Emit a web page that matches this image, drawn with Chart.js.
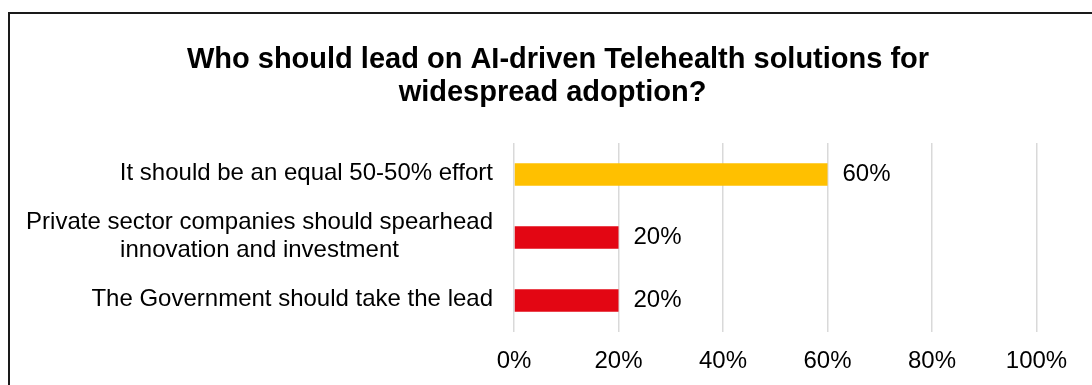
<!DOCTYPE html>
<html>
<head>
<meta charset="utf-8">
<script src="https://cdn.jsdelivr.net/npm/chart.js@4.4.1/dist/chart.umd.min.js"></script>
<style>
html, body { margin: 0; padding: 0; overflow: hidden; background: #fff; width: 1092px; height: 385px; }
#frame { position: absolute; left: 8px; top: 12px; width: 1200px; height: 500px; border: 2px solid #1a1a1a; box-sizing: border-box; }
#wrap { position: absolute; left: 0; top: 0; width: 1092px; height: 385px; }
</style>
</head>
<body>
<div id="frame"></div>
<div id="wrap"><canvas id="c" width="1092" height="385"></canvas></div>
<script>
const titleLines = ["Who should lead on AI-driven Telehealth solutions for", "widespread adoption?"];
const categories = [
  ["It should be an equal 50-50% effort"],
  ["Private sector companies should spearhead", "innovation and investment"],
  ["The Government should take the lead"]
];
const values = [60, 20, 20];
const barColors = ["#FFC000", "#E30613", "#E30613"];
const tickValues = [0, 20, 40, 60, 80, 100];

const FONT = "'Liberation Sans', Arial, sans-serif";

const customText = {
  id: 'customText',
  afterDraw(chart) {
    const ctx = chart.ctx;
    ctx.save();
    // title
    ctx.fillStyle = '#000';
    ctx.font = "bold 29px " + FONT;
    ctx.textAlign = 'center';
    ctx.textBaseline = 'alphabetic';
    const titleX = [558, 552.5], titleY = [68, 100.5];
    titleLines.forEach((t, i) => ctx.fillText(t, titleX[i], titleY[i]));
    // y category labels
    const ys = chart.scales.y;
    ctx.font = "24px " + FONT;
    ctx.textBaseline = 'middle';
    const right = 493, lh = 27.5;
    categories.forEach((lines, i) => {
      const cy = ys.getPixelForTick(i) - 1;
      const widest = Math.max(...lines.map(l => ctx.measureText(l).width));
      const cx = right - widest / 2;
      lines.forEach((l, j) => {
        ctx.fillText(l, cx, cy + (j - (lines.length - 1) / 2) * lh);
      });
    });
    // data labels
    ctx.textAlign = 'left';
    const meta = chart.getDatasetMeta(0);
    meta.data.forEach((bar, i) => {
      ctx.fillText(values[i] + '%', bar.x + 15, bar.y);
    });
    ctx.restore();
  }
};

new Chart(document.getElementById('c'), {
  type: 'bar',
  data: {
    labels: categories,
    datasets: [{
      data: values,
      backgroundColor: barColors,
      borderWidth: 0,
      categoryPercentage: 1,
      barPercentage: 0.355
    }]
  },
  options: {
    indexAxis: 'y',
    responsive: false,
    animation: false,
    layout: { padding: { top: 143, left: 0, right: 55.5, bottom: 0 } },
    plugins: { legend: { display: false }, title: { display: false }, tooltip: { enabled: false } },
    scales: {
      x: {
        min: 0, max: 100,
        afterBuildTicks(scale) { scale.ticks = tickValues.map(v => ({ value: v })); },
        border: { display: false },
        grid: { color: '#D9D9D9', lineWidth: 1.5, drawTicks: false },
        ticks: {
          padding: 15,
          color: '#000',
          font: { family: FONT, size: 24 },
          callback: v => v + '%'
        },
        afterFit(scale) { scale.height = 53; }
      },
      y: {
        border: { display: false },
        grid: { display: false },
        ticks: { display: false },
        afterFit(scale) { scale.width = 514; }
      }
    }
  },
  plugins: [customText]
});
</script>
</body>
</html>
